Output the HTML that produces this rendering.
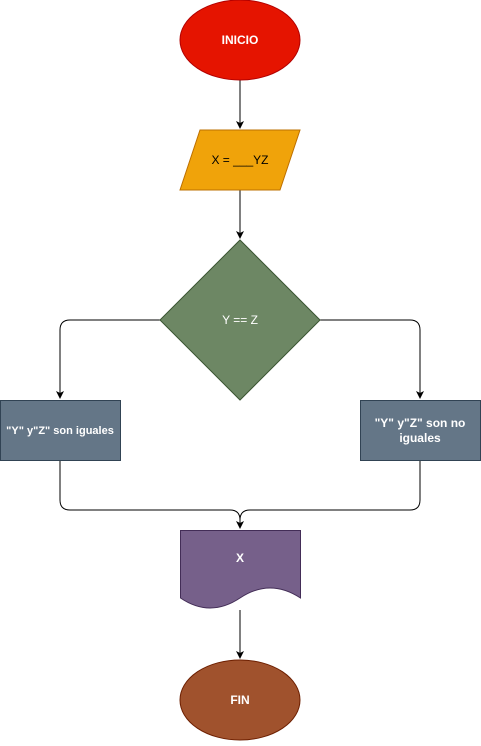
<!DOCTYPE html>
<html><head><style>body{margin:0;background:#fff}</style></head><body>
<svg width="481" height="741" xmlns="http://www.w3.org/2000/svg" font-family="Liberation Sans, sans-serif" font-size="12">
<defs><marker id="a" markerWidth="8" markerHeight="8" refX="7" refY="4" orient="auto" markerUnits="userSpaceOnUse"><path d="M0,0 L8,4 L0,8 L2,4 Z" fill="#000"/></marker></defs>
<g stroke="#000" fill="none" stroke-width="1">
<path d="M240 80 V128" marker-end="url(#a)"/>
<path d="M240 190 V238" marker-end="url(#a)"/>
<path d="M160 320 H70 Q60 320 60 330 V398" marker-end="url(#a)"/>
<path d="M320 320 H410 Q420 320 420 330 V398" marker-end="url(#a)"/>
<path d="M60 460 V500 Q60 510 70 510 H230 Q240 510 240 520 V528" marker-end="url(#a)"/>
<path d="M420 460 V500 Q420 510 410 510 H250 Q240 510 240 520"/>
<path d="M240 610 V658" marker-end="url(#a)"/>
</g>
<ellipse cx="240" cy="40" rx="60" ry="40" fill="#e51400" stroke="#b20000"/>
<text x="240" y="44" fill="#fff" text-anchor="middle" font-weight="bold">INICIO</text>
<path d="M200 130 H300 L280 190 H180 Z" fill="#f0a30a" stroke="#bd7000"/>
<text x="240" y="164" fill="#000" text-anchor="middle">X = ___YZ</text>
<path d="M240 240 L320 320 L240 400 L160 320 Z" fill="#6d8764" stroke="#3a5431"/>
<text x="240" y="324" fill="#fff" text-anchor="middle">Y == Z</text>
<rect x="0.5" y="400.5" width="120" height="60" fill="#647687" stroke="#314354"/>
<text x="60" y="434" fill="#fff" text-anchor="middle" font-weight="bold" font-size="11">"Y" y"Z" son iguales</text>
<rect x="360.5" y="400.5" width="120" height="60" fill="#647687" stroke="#314354"/>
<text x="420" y="427" fill="#fff" text-anchor="middle" font-weight="bold">"Y" y"Z" son no</text>
<text x="420" y="442" fill="#fff" text-anchor="middle" font-weight="bold">iguales</text>
<path d="M180.5 530.5 H300.5 V598 Q270 578 240 598 Q210 618 180.5 598 Z" fill="#76608a" stroke="#432d57"/>
<text x="240" y="562" fill="#fff" text-anchor="middle" font-weight="bold">X</text>
<ellipse cx="240" cy="700" rx="60" ry="40" fill="#a0522d" stroke="#6d1f00"/>
<text x="240" y="704" fill="#fff" text-anchor="middle" font-weight="bold">FIN</text>
</svg>
</body></html>
